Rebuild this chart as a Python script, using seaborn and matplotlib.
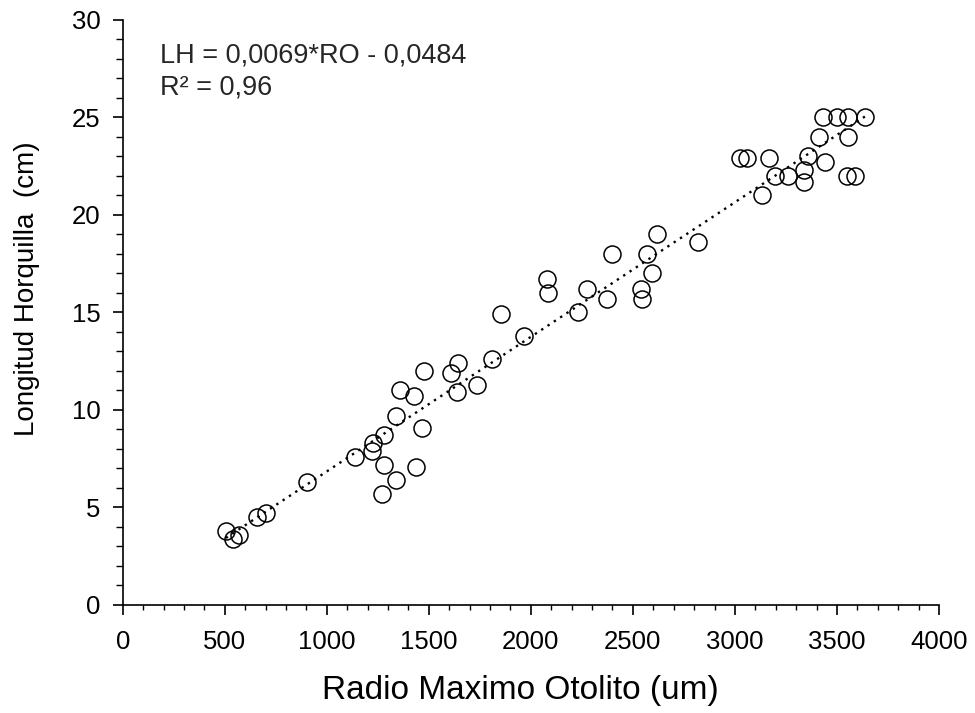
import matplotlib
matplotlib.use("Agg")
import matplotlib.pyplot as plt
import seaborn as sns
import numpy as np
import pandas as pd
from matplotlib.ticker import MultipleLocator

radio_otolito = [505, 540, 570, 658, 704, 904, 1137, 1219, 1227, 1279, 1281, 1268, 1337,
                 1340, 1358, 1426, 1435, 1467, 1475, 1608, 1642, 1636, 1737, 1807, 1853,
                 1967, 2077, 2082, 2232, 2273, 2371, 2399, 2539, 2543, 2567, 2595, 2619,
                 2817, 3025, 3057, 3131, 3168, 3196, 3258, 3340, 3340, 3359, 3412, 3433,
                 3441, 3501, 3556, 3556, 3547, 3588, 3637]
longitud_horquilla = [3.8, 3.4, 3.6, 4.5, 4.7, 6.3, 7.6, 7.9, 8.3, 8.7, 7.2, 5.7, 6.4,
                      9.7, 11.0, 10.7, 7.1, 9.1, 12.0, 11.9, 12.4, 10.9, 11.3, 12.6, 14.9,
                      13.8, 16.7, 16.0, 15.0, 16.2, 15.7, 18.0, 16.2, 15.7, 18.0, 17.0, 19.0,
                      18.6, 22.9, 22.9, 21.0, 22.9, 22.0, 22.0, 21.7, 22.3, 23.0, 24.0, 25.0,
                      22.7, 25.0, 25.0, 24.0, 22.0, 22.0, 25.0]
slope = 0.0069
intercept = -0.0484
equation_text = "LH = 0,0069*RO - 0,0484"
r2_text = "R² = 0,96"
x_ticks = [0, 500, 1000, 1500, 2000, 2500, 3000, 3500, 4000]
y_ticks = [0, 5, 10, 15, 20, 25, 30]

sns.set_theme(style="ticks")
plt.rcParams['font.family'] = ['Liberation Sans', 'DejaVu Sans']

df = pd.DataFrame({"RO": radio_otolito, "LH": longitud_horquilla})

fig = plt.figure(figsize=(9.75, 7.13), dpi=100)
ax = fig.add_axes([0.126, 0.1515, 0.837, 0.8205])

xs = np.array([min(radio_otolito), max(radio_otolito)])
ax.plot(xs, slope * xs + intercept, linestyle=(0, (1, 2.2)), color="black", linewidth=1.7, zorder=1)

sns.scatterplot(data=df, x="RO", y="LH", ax=ax, s=150, facecolor="white",
                edgecolor="black", linewidth=1.1, zorder=2, legend=False)
for c in ax.collections:
    c.set_facecolor((1, 1, 1, 0))

ax.set_xlim(0, 4000)
ax.set_ylim(0, 30)
ax.set_xticks(x_ticks)
ax.set_yticks(y_ticks)
ax.xaxis.set_minor_locator(MultipleLocator(100))
ax.yaxis.set_minor_locator(MultipleLocator(1))
ax.tick_params(which="major", length=7, width=1.2, labelsize=18.5, color="black", labelcolor="black")
ax.tick_params(axis="x", which="major", pad=11)
ax.tick_params(axis="y", which="major", pad=9)
ax.tick_params(axis="x", which="minor", length=3.8, width=1.0, color="black")
ax.tick_params(axis="y", which="minor", length=5, width=1.0, color="black")
for side in ["top", "right"]:
    ax.spines[side].set_visible(False)
for side in ["left", "bottom"]:
    ax.spines[side].set_color("black")
    ax.spines[side].set_linewidth(1.2)

ax.set_xlabel("Radio Maximo Otolito (um)", fontsize=24, color="black")
ax.xaxis.set_label_coords(0.487, -0.12)
ax.set_ylabel("Longitud Horquilla  (cm)", fontsize=20, color="black")
ax.yaxis.set_label_coords(-0.102, 0.54)

ax.text(0.045, 0.940, equation_text, transform=ax.transAxes, fontsize=19.5, va="center", ha="left")
ax.text(0.045, 0.885, r2_text, transform=ax.transAxes, fontsize=19.5, va="center", ha="left")

fig.savefig("out.png", dpi=100)
